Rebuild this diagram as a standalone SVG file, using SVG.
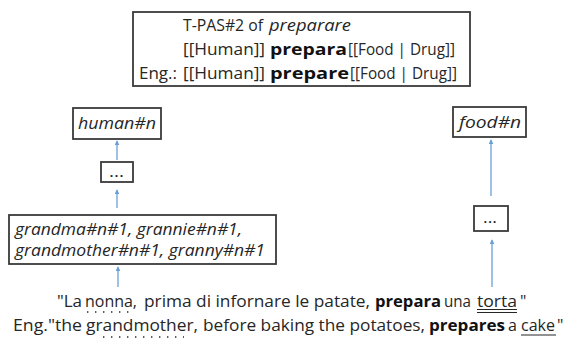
<svg xmlns="http://www.w3.org/2000/svg" width="565" height="338" viewBox="0 0 565 338">
  <style>
    .box { fill: #ffffff; stroke: #3a3a3a; stroke-width: 1.8; }
    .t { font-family: "Open Sans", "Noto Sans", sans-serif; font-size: 16px; fill: #262626; }
    .i { font-style: italic; }
    .b { font-weight: bold; fill: #111111; }
    .conn { stroke: #6a9fd8; stroke-width: 1.3; fill: none; marker-end: url(#arrow); }
    .ul { stroke: #262626; stroke-width: 1; fill: none; }
    .dots { stroke: #262626; stroke-width: 1.6; stroke-dasharray: 1.4 6.6; fill: none; }
  </style>
  <defs>
    <marker id="arrow" viewBox="0 0 6 6" refX="5" refY="3" markerWidth="5" markerHeight="5" markerUnits="userSpaceOnUse" orient="auto">
      <path d="M0,0 L6,3 L0,6 z" fill="#6a9fd8"/>
    </marker>
  </defs>

  <!-- pattern box -->
  <g id="tpas">
    <rect class="box" x="133" y="12" width="337" height="74"/>
    <text class="t" x="183" y="31" textLength="80" lengthAdjust="spacingAndGlyphs">T-PAS#2 of</text>
    <text class="t i" x="269" y="31" textLength="82" lengthAdjust="spacingAndGlyphs">preparare</text>
    <text class="t" x="183" y="55" textLength="82" lengthAdjust="spacingAndGlyphs">[[Human]]</text>
    <text class="t b" x="270" y="55" textLength="77" lengthAdjust="spacingAndGlyphs">prepara</text>
    <text class="t" x="348" y="55" textLength="107" lengthAdjust="spacingAndGlyphs">[[Food | Drug]]</text>
    <text class="t" x="139" y="79" textLength="38" lengthAdjust="spacingAndGlyphs">Eng.:</text>
    <text class="t" x="183" y="79" textLength="82" lengthAdjust="spacingAndGlyphs">[[Human]]</text>
    <text class="t b" x="270" y="79" textLength="79" lengthAdjust="spacingAndGlyphs">prepare</text>
    <text class="t" x="350" y="79" textLength="107" lengthAdjust="spacingAndGlyphs">[[Food | Drug]]</text>
  </g>

  <!-- left hierarchy -->
  <g id="human">
    <rect class="box" x="73" y="108" width="88" height="31"/>
    <text class="t i" x="78" y="129" textLength="78" lengthAdjust="spacingAndGlyphs">human#n</text>
  </g>
  <g id="dotsLeft">
    <rect class="box" x="101" y="162" width="32" height="20"/>
    <text class="t" x="109" y="177" textLength="15" lengthAdjust="spacingAndGlyphs">...</text>
  </g>
  <g id="grandma">
    <rect class="box" x="9" y="215" width="267" height="49"/>
    <text class="t i" x="15" y="235" textLength="227" lengthAdjust="spacingAndGlyphs">grandma#n#1, grannie#n#1,</text>
    <text class="t i" x="15" y="256" textLength="250" lengthAdjust="spacingAndGlyphs">grandmother#n#1, granny#n#1</text>
  </g>

  <!-- right hierarchy -->
  <g id="food">
    <rect class="box" x="453" y="107" width="73" height="30"/>
    <text class="t i" x="459" y="128" textLength="62" lengthAdjust="spacingAndGlyphs">food#n</text>
  </g>
  <g id="dotsRight">
    <rect class="box" x="474" y="206" width="34" height="25"/>
    <text class="t" x="483" y="223" textLength="14" lengthAdjust="spacingAndGlyphs">...</text>
  </g>

  <!-- sentence -->
  <g id="sentence">
    <text class="t" x="57" y="307" textLength="25" lengthAdjust="spacingAndGlyphs">"La</text>
    <text class="t" x="85" y="307" textLength="52" lengthAdjust="spacingAndGlyphs">nonna,</text>
    <text class="t" x="144" y="307" textLength="226" lengthAdjust="spacingAndGlyphs">prima di infornare le patate,</text>
    <text class="t b" x="375" y="307" textLength="66" lengthAdjust="spacingAndGlyphs">prepara</text>
    <text class="t" x="444" y="307" textLength="27" lengthAdjust="spacingAndGlyphs">una</text>
    <text class="t" x="477" y="307" textLength="40" lengthAdjust="spacingAndGlyphs">torta</text>
    <text class="t" x="520" y="307">"</text>
    <line class="dots" x1="87" y1="312" x2="130" y2="312"/>
    <line class="ul" x1="477" y1="309.5" x2="517" y2="309.5"/>
    <line class="ul" x1="477" y1="312.5" x2="517" y2="312.5"/>

    <text class="t" x="13" y="331" textLength="69" lengthAdjust="spacingAndGlyphs">Eng."the</text>
    <text class="t" x="86" y="331" textLength="112" lengthAdjust="spacingAndGlyphs">grandmother,</text>
    <text class="t" x="203" y="331" textLength="222" lengthAdjust="spacingAndGlyphs">before baking the potatoes,</text>
    <text class="t b" x="429" y="331" textLength="76" lengthAdjust="spacingAndGlyphs">prepares</text>
    <text class="t" x="508" y="331">a</text>
    <text class="t" x="521" y="331" textLength="34" lengthAdjust="spacingAndGlyphs">cake</text>
    <text class="t" x="557" y="331">"</text>
    <line class="dots" x1="103" y1="337" x2="184" y2="337"/>
    <line class="ul" x1="521" y1="335" x2="556" y2="335"/>
  </g>

  <!-- connectors -->
  <g id="connectors">
    <line class="conn" x1="117" y1="160" x2="117" y2="141"/>
    <line class="conn" x1="117" y1="208" x2="117" y2="190"/>
    <line class="conn" x1="118" y1="287" x2="118" y2="267"/>
    <line class="conn" x1="491" y1="196" x2="491" y2="140"/>
    <line class="conn" x1="492" y1="287" x2="492" y2="240"/>
  </g>
</svg>
